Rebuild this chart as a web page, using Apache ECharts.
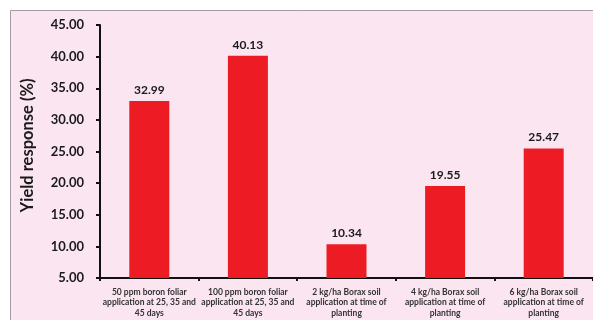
<!DOCTYPE html>
<html>
<head>
<meta charset="utf-8">
<script src="https://cdn.jsdelivr.net/npm/echarts@6/dist/echarts.min.js"></script>
<style>
  html, body { margin: 0; padding: 0; background: #fff; }
  #chart { width: 593px; height: 320px; }
</style>
</head>
<body>
<div id="chart"></div>
<script>
const categories = [
    '50 ppm boron foliar\napplication at 25, 35 and\n45 days',
    '100 ppm boron foliar\napplication at 25, 35 and\n45 days',
    '2 kg/ha Borax soil\napplication at time of\nplanting',
    '4 kg/ha Borax soil\napplication at time of\nplanting',
    '6 kg/ha Borax soil\napplication at time of\nplanting'
];
const yieldResponse = [32.99, 40.13, 10.34, 19.55, 25.47];
const yTicks = { min: 5, max: 45, interval: 5 };

const chartDom = document.getElementById('chart');
const myChart = echarts.init(chartDom);

const colors = {
    bar: '#ED1C24',
    bg: '#FBE5F1',
    frame: '#A89AA2',
    text: '#1a1a1a'
};

const option = {
    backgroundColor: '#fff',
    animation: false,
    graphic: [
        {
            type: 'rect',
            z: -10,
            silent: true,
            shape: { x: 10.5, y: 10.5, width: 600, height: 320 },
            style: { fill: colors.bg, stroke: colors.frame, lineWidth: 1 }
        }
    ],
    grid: {
        left: 100,
        top: 25,
        width: 500,
        bottom: 42
    },
    xAxis: {
        type: 'category',
        data: categories,
        axisLine: { lineStyle: { color: '#111', width: 2 } },
        axisTick: { show: true, alignWithLabel: false, length: 3, lineStyle: { color: '#111', width: 2 } },
        axisLabel: {
            color: '#333',
            fontFamily: 'Lato',
            fontWeight: 'bold',
            fontSize: 8.5,
            lineHeight: 10.5,
            margin: 9,
            interval: 0
        }
    },
    yAxis: {
        type: 'value',
        min: yTicks.min,
        max: yTicks.max,
        interval: yTicks.interval,
        name: 'Yield response (%)',
        nameLocation: 'middle',
        nameGap: 64,
        nameTextStyle: {
            color: colors.text,
            fontFamily: 'Lato',
            fontWeight: 'bold',
            fontSize: 16.5,
            padding: [0, 0, 0, 12]
        },
        axisLine: { show: true, lineStyle: { color: '#111', width: 2 } },
        axisTick: { show: true, length: 4, lineStyle: { color: '#111', width: 2 } },
        splitLine: { show: false },
        axisLabel: {
            color: colors.text,
            fontFamily: 'Lato',
            fontWeight: 'bold',
            fontSize: 13,
            margin: 16,
            formatter: v => v.toFixed(2)
        }
    },
    series: [
        {
            type: 'bar',
            data: yieldResponse,
            barWidth: 40,
            itemStyle: { color: colors.bar },
            label: {
                show: true,
                position: 'top',
                distance: 5,
                color: colors.text,
                fontFamily: 'Lato',
                fontWeight: 'bold',
                fontSize: 12,
                formatter: p => p.value.toFixed(2)
            }
        }
    ]
};

myChart.setOption(option);
window.addEventListener('resize', () => myChart.resize());
</script>
</body>
</html>
